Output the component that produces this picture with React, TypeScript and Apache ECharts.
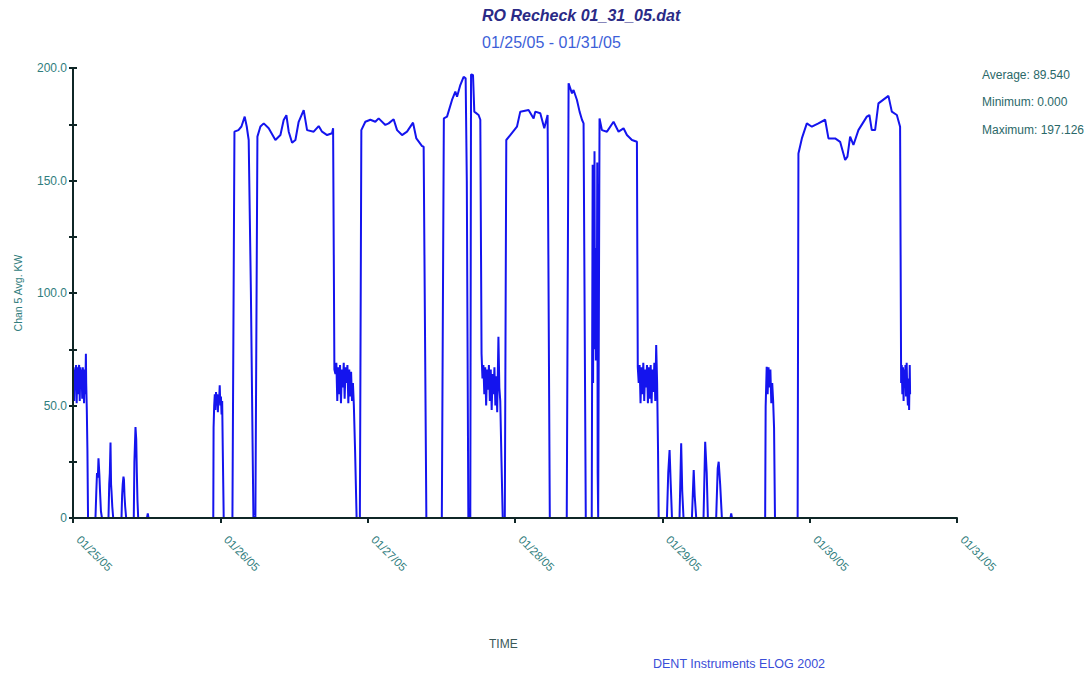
import React, { useEffect, useRef } from "react";
import * as echarts from "echarts";

// x = hours since 01/25/05 00:00, y = Chan 5 Avg. KW
const dayLabels = ["01/25/05", "01/26/05", "01/27/05", "01/28/05", "01/29/05", "01/30/05", "01/31/05"];
const yTicks = [0, 50, 100, 150, 200];

const seg25: number[][] = [
  [0, 56], [0.1, 67], [0.2, 52], [0.3, 66], [0.4, 60], [0.5, 68], [0.6, 51], [0.7, 67], [0.8, 55], [0.9, 66],
  [1.0, 68], [1.1, 52], [1.2, 67], [1.3, 58], [1.4, 66], [1.5, 53], [1.6, 67], [1.7, 60], [1.8, 51], [1.9, 66],
  [2.0, 55], [2.1, 73], [2.15, 60], [2.25, 48], [2.35, 30], [2.45, 0],
  [3.66, 0], [3.8, 12], [3.91, 20], [4.05, 18], [4.15, 26.5], [4.3, 19], [4.4, 12], [4.55, 3], [4.72, 0],
  [5.78, 0], [5.9, 15], [6.0, 20], [6.11, 33.5], [6.2, 15], [6.27, 12], [6.4, 5], [6.55, 0],
  [7.9, 0], [8.0, 10], [8.1, 15], [8.22, 18.4], [8.3, 17], [8.39, 10], [8.5, 5], [8.66, 0],
  [9.9, 0], [10.0, 25], [10.18, 40.4], [10.3, 35], [10.4, 20], [10.5, 8], [10.62, 0],
  [12.05, 0], [12.18, 2], [12.3, 0],
  [22.85, 0], [22.9, 40], [23.0, 50], [23.1, 55], [23.2, 48], [23.3, 56], [23.4, 50], [23.5, 55], [23.6, 47],
  [23.7, 54], [23.8, 52], [23.9, 59], [24.0, 50],
];

const seg26: number[][] = [
  [24.1, 54], [24.2, 46], [24.3, 52], [24.4, 30], [24.55, 0],
  [25.97, 0], [26.3, 171.7], [26.95, 172.4], [27.44, 174], [27.97, 178.4], [28.3, 174], [28.62, 168], [28.98, 100],
  [29.39, 0], [29.71, 0], [30.04, 169.5], [30.53, 174], [31.07, 175.4], [31.88, 173.2], [32.97, 168], [33.79, 170.2],
  [34.32, 176.9], [34.76, 179], [35.14, 171.7], [35.69, 166.8], [36.23, 168], [36.76, 176.1], [37.58, 181.3],
  [38.13, 172.4], [39.21, 171.7], [40.02, 174.2], [40.57, 171.7], [41.39, 170.2], [42.2, 171], [42.37, 173.2],
  [42.58, 66], [42.75, 64], [42.9, 69], [43.05, 52], [43.2, 67], [43.35, 55], [43.5, 68], [43.65, 51], [43.8, 66],
  [43.95, 58], [44.1, 69], [44.25, 53], [44.4, 67], [44.55, 60], [44.7, 68], [44.85, 51], [45.0, 66], [45.15, 54],
  [45.3, 65], [45.45, 52], [45.6, 60], [45.75, 50], [45.95, 30], [46.2, 0],
  [46.73, 0], [46.97, 172.4], [47.62, 176.1],
];

const seg27: number[][] = [
  [48.44, 177], [49.25, 176.1], [49.79, 177.6], [50.88, 174.7], [51.42, 175.4], [52.23, 177.2], [52.79, 172.4],
  [53.6, 170.2], [54.41, 171.7], [55.39, 175.7], [55.93, 168.7], [56.86, 165.3], [57.12, 165], [57.56, 0],
  [60.08, 0], [60.41, 177.6], [60.93, 178.4], [61.74, 185.8], [62.28, 189.5], [62.56, 187.2], [63.09, 192.4],
  [63.63, 196.1], [63.96, 195.4], [64.15, 150], [64.4, 0], [64.72, 0], [64.84, 197.1], [65.16, 196.9],
  [65.37, 180.6], [66.07, 179.1], [66.35, 177],
  [66.55, 73], [66.7, 62], [66.85, 68], [67.0, 55], [67.15, 67], [67.3, 50], [67.45, 66], [67.6, 57], [67.75, 68],
  [67.9, 52], [68.05, 66], [68.2, 48], [68.35, 64], [68.5, 55], [68.65, 67], [68.8, 50], [68.95, 63], [69.1, 47],
  [69.3, 80.6], [69.45, 58], [69.6, 52], [69.8, 25], [70.0, 0],
  [70.34, 0], [70.58, 168], [71.23, 170.2],
];

const seg28: number[][] = [
  [72.32, 173.9], [72.86, 180.6], [74.21, 181.3], [75.03, 177.6], [75.3, 180.6], [76.12, 179.9], [76.77, 173.2],
  [77.31, 179.1], [77.67, 0],
  [80.43, 0], [80.73, 193.2], [81.28, 188.7], [81.54, 190.2], [82.09, 185.8], [82.52, 180.6], [82.91, 177],
  [83.17, 175.4], [83.53, 0],
  [84.5, 0], [84.65, 157], [84.72, 60], [84.8, 140], [84.88, 75], [84.95, 163], [85.02, 90], [85.1, 110],
  [85.17, 70], [85.25, 120], [85.32, 80], [85.4, 158], [85.47, 20], [85.55, 0],
  [85.64, 0], [85.77, 177.6], [86.16, 172.4], [86.98, 171.7], [88.05, 176.1], [88.87, 171.7], [89.68, 173.2],
  [90.23, 170.2], [91.05, 168], [91.86, 167.2],
  [92.0, 67], [92.15, 60], [92.3, 68], [92.45, 51], [92.6, 67], [92.75, 55], [92.9, 69], [93.05, 52], [93.2, 66],
  [93.35, 58], [93.5, 68], [93.65, 51], [93.8, 67], [93.95, 53], [94.1, 68], [94.25, 51], [94.4, 66], [94.55, 56],
  [94.7, 69], [94.85, 52], [95.0, 76.9], [95.15, 60], [95.3, 30], [95.4, 0],
];

const seg29: number[][] = [
  [96.75, 0], [96.96, 20], [97.18, 30.2], [97.37, 15], [97.57, 0],
  [98.8, 0], [99.07, 33.2], [99.24, 12], [99.45, 0],
  [100.82, 0], [101.11, 21.3], [101.27, 10], [101.52, 0],
  [102.71, 0], [102.98, 33.9], [103.23, 20], [103.42, 0],
  [104.77, 0], [105.02, 22], [105.18, 25], [105.42, 15], [105.7, 0],
  [107.1, 0], [107.22, 2], [107.35, 0],
  [112.75, 0], [112.83, 49.5], [113.0, 67.2], [113.15, 55], [113.3, 67], [113.45, 58], [113.6, 66], [113.75, 51],
  [113.9, 60], [114.05, 52], [114.2, 40], [114.35, 0],
  [118.04, 0], [118.17, 162], [118.73, 168.7], [119.54, 175.4],
];

const seg30: number[][] = [
  [120.36, 173.9], [121.43, 175.4], [122.52, 177], [123.06, 168.7], [124.15, 168.7], [124.96, 167.2],
  [125.78, 159.1], [126.15, 160.6], [126.59, 169.5], [127.13, 165.8], [127.94, 172.4], [129.31, 178.4],
  [129.73, 179.1], [130.12, 172.4], [130.66, 172.4], [131.2, 184.3], [132.83, 187.6], [133.38, 180.6],
  [134.2, 179.1], [134.73, 173.9],
  [134.9, 60], [135.0, 68], [135.1, 55], [135.2, 67], [135.3, 52], [135.4, 66], [135.5, 58], [135.6, 68],
  [135.7, 54], [135.8, 69], [135.9, 56], [136.0, 50], [136.1, 62], [136.2, 48], [136.3, 68], [136.36, 55],
];

const statLabels = ["Average: 89.540", "Minimum: 0.000", "Maximum: 197.126"];

const FONT = "'Liberation Sans', Arial, Helvetica, sans-serif";
const AXIS_COLOR = "#0f2626";
const LABEL_COLOR = "#2f7d7d";

export default function App() {
  const ref = useRef<HTMLDivElement>(null);
  useEffect(() => {
    if (!ref.current) return;
    const chart = echarts.init(ref.current, undefined, { renderer: "svg" });
    const data = [...seg25, ...seg26, ...seg27, ...seg28, ...seg29, ...seg30];
    const txt = (text: string, x: number, y: number, size: number, fill: string, extra: any = {}) => ({
      type: "text",
      x,
      y,
      rotation: extra.rotation || 0,
      style: {
        text,
        fill,
        fontSize: size,
        fontFamily: FONT,
        fontWeight: extra.fontWeight || "normal",
        fontStyle: extra.fontStyle || "normal",
        textAlign: extra.align || "left",
        align: extra.align || "left",
        textVerticalAlign: "middle",
        verticalAlign: "middle",
      },
    });
    chart.setOption({
      animation: false,
      backgroundColor: "#ffffff",
      grid: { left: 73, top: 68, right: 134, bottom: 155, containLabel: false },
      xAxis: {
        type: "value",
        min: 0,
        max: 144,
        interval: 24,
        z: 5,
        axisLine: { show: true, lineStyle: { color: AXIS_COLOR, width: 2 } },
        axisTick: { show: true, length: 5, lineStyle: { color: AXIS_COLOR, width: 2 } },
        splitLine: { show: false },
        axisLabel: {
          rotate: -45,
          margin: 14,
          padding: [0, 0, 0, 8],
          color: LABEL_COLOR,
          fontSize: 11.5,
          fontFamily: FONT,
          formatter: (v: number) => dayLabels[Math.round(v / 24)] ?? "",
        },
      },
      yAxis: [
        {
          type: "value",
          min: 0,
          max: 200,
          interval: 25,
          z: 5,
          position: "left",
          axisLine: { show: true, lineStyle: { color: AXIS_COLOR, width: 2 } },
          axisTick: { show: true, length: 4, lineStyle: { color: AXIS_COLOR, width: 2 } },
          splitLine: { show: false },
          axisLabel: {
            margin: 6,
            color: LABEL_COLOR,
            fontSize: 12,
            fontFamily: FONT,
            formatter: (v: number) => (yTicks.includes(v) ? (v === 0 ? "0" : v.toFixed(1)) : ""),
          },
        },
        {
          type: "value",
          min: 0,
          max: 200,
          interval: 25,
          z: 5,
          position: "left",
          offset: 0,
          axisLine: { show: false },
          axisTick: { show: true, inside: true, length: 4, lineStyle: { color: AXIS_COLOR, width: 2 } },
          splitLine: { show: false },
          axisLabel: { show: false },
        },
      ],
      series: [
        {
          type: "line",
          data,
          yAxisIndex: 0,
          showSymbol: false,
          symbol: "none",
          z: 2,
          lineStyle: { color: "#1414ee", width: 2 },
        },
      ],
      graphic: [
        txt("RO Recheck 01_31_05.dat", 482, 15, 16, "#2a2a86", { fontWeight: "bold", fontStyle: "italic" }),
        txt("01/25/05 - 01/31/05", 482, 42, 16, "#3d5fd8"),
        txt(statLabels[0], 982, 75, 12, "#2a6868"),
        txt(statLabels[1], 982, 102, 12, "#2a6868"),
        txt(statLabels[2], 982, 130, 12, "#2a6868"),
        txt("Chan 5 Avg. KW", 18, 293, 10.5, LABEL_COLOR, { align: "center", rotation: Math.PI / 2 }),
        txt("TIME", 489, 644, 12, "#3a5858"),
        txt("DENT Instruments ELOG 2002", 653, 664, 12.5, "#3a4ed8"),
      ],
    });
    return () => chart.dispose();
  }, []);
  return (
    <div
      ref={ref}
      style={{ position: "absolute", left: 0, top: 0, width: 1091, height: 673, background: "#fff" }}
    />
  );
}
